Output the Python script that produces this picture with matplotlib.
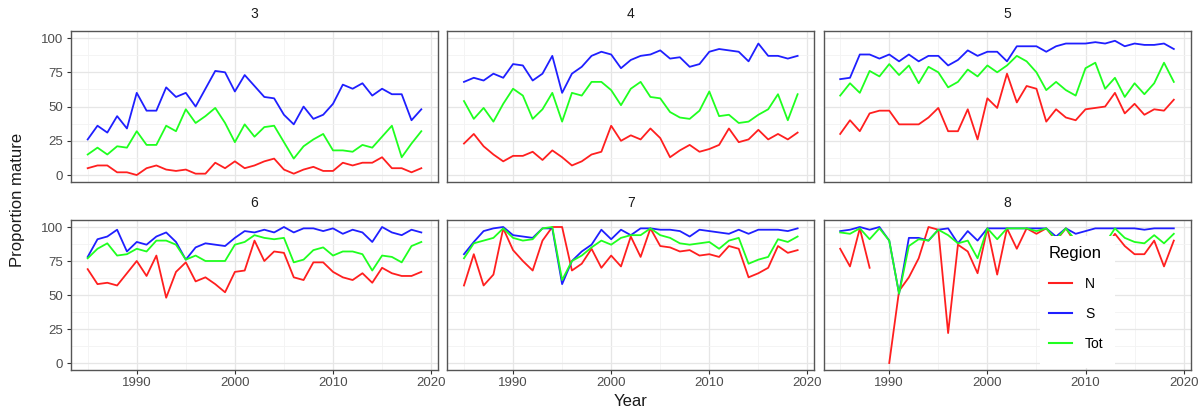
"""
Proportion mature by year, one panel per age, lines for each region.
"""

import numpy as np
import matplotlib.pyplot as plt
from matplotlib.patches import Rectangle
from matplotlib.ticker import MultipleLocator

plt.rcParams['font.family'] = ['Liberation Sans', 'DejaVu Sans']

years = np.arange(1985, 2020)
ages = [3, 4, 5, 6, 7, 8]
regions = ['N', 'S', 'Tot']
colours = {'N': '#ff1f1f', 'S': '#1f1fff', 'Tot': '#1fff1f'}

# proportion mature (%), 1985-2019
n3 = [5, 7, 7, 2, 2, 0, 5, 7, 4, 3, 4, 1, 1, 9, 5, 10, 5, 7, 10, 12,
      4, 1, 4, 6, 3, 3, 9, 7, 9, 9, 13, 5, 5, 2, 5]
s3 = [26, 36, 31, 43, 34, 60, 47, 47, 64, 57, 60, 50, 63, 76, 75, 61, 73, 65, 57, 56,
      44, 37, 50, 41, 44, 52, 66, 63, 67, 58, 63, 59, 59, 40, 48]
tot3 = [15, 20, 15, 21, 20, 32, 22, 22, 36, 32, 48, 38, 43, 49, 38, 24, 37, 28, 35, 36,
        24, 12, 21, 26, 30, 18, 18, 17, 22, 20, 28, 36, 13, 23, 32]

n4 = [23, 30, 21, 15, 10, 14, 14, 17, 11, 18, 13, 7, 10, 15, 17, 36, 25, 29, 26, 34,
      27, 13, 18, 22, 17, 19, 22, 34, 24, 26, 33, 26, 30, 26, 31]
s4 = [68, 71, 69, 74, 71, 81, 80, 69, 74, 87, 60, 74, 79, 87, 90, 88, 78, 84, 87, 88,
      91, 85, 86, 79, 81, 90, 92, 91, 90, 83, 96, 87, 87, 85, 87]
tot4 = [54, 41, 49, 39, 52, 63, 58, 41, 48, 60, 39, 60, 58, 68, 68, 62, 51, 63, 68, 57,
        56, 46, 42, 41, 47, 61, 43, 44, 38, 39, 44, 48, 59, 40, 59]

n5 = [30, 40, 32, 45, 47, 47, 37, 37, 37, 42, 49, 32, 32, 48, 26, 56, 49, 74, 53, 65,
      63, 39, 48, 42, 40, 48, 49, 50, 60, 45, 52, 44, 48, 47, 55]
s5 = [70, 71, 88, 88, 85, 88, 83, 88, 83, 87, 87, 80, 84, 91, 87, 90, 90, 83, 94, 94,
      94, 90, 94, 96, 96, 96, 97, 96, 98, 94, 96, 95, 95, 96, 92]
tot5 = [58, 67, 60, 76, 72, 81, 73, 80, 67, 79, 75, 64, 68, 77, 72, 80, 75, 80, 87, 83,
        75, 62, 68, 62, 58, 78, 82, 63, 71, 57, 67, 59, 67, 82, 68]

n6 = [69, 58, 59, 57, 66, 75, 64, 79, 48, 67, 74, 60, 63, 58, 52, 67, 68, 90, 75, 82,
      81, 63, 61, 74, 74, 67, 63, 61, 66, 59, 70, 66, 64, 64, 67]
s6 = [78, 91, 93, 98, 82, 89, 87, 93, 96, 89, 76, 85, 88, 87, 86, 92, 97, 96, 98, 96,
      100, 96, 99, 99, 97, 99, 95, 98, 96, 89, 100, 96, 94, 98, 96]
tot6 = [77, 84, 88, 79, 80, 84, 82, 90, 90, 87, 76, 79, 75, 75, 75, 87, 89, 94, 92, 91,
        92, 74, 76, 83, 85, 79, 82, 82, 80, 68, 79, 78, 74, 86, 89]

n7 = [57, 80, 57, 65, 99, 83, 75, 68, 90, 100, 100, 68, 73, 84, 70, 79, 71, 93, 78, 99,
      86, 85, 82, 83, 79, 80, 78, 86, 84, 63, 66, 70, 86, 81, 83]
s7 = [80, 89, 97, 99, 100, 94, 93, 92, 99, 99, 58, 75, 82, 87, 98, 91, 98, 94, 99, 99,
      98, 98, 97, 93, 98, 97, 96, 95, 98, 95, 98, 98, 98, 97, 99]
tot7 = [77, 88, 90, 92, 99, 92, 90, 91, 99, 100, 61, 75, 79, 85, 90, 87, 92, 94, 94, 99,
        94, 92, 88, 87, 88, 89, 84, 90, 92, 73, 76, 78, 91, 89, 93]

n8 = [84, 71, 99, 70, np.nan, 0, 53, 63, 77, 100, 98, 22, 87, 82, 66, 99, 65, 99, 84, 99,
      95, 99, 90, 99, 88, 85, 89, 84, 95, 86, 80, 80, 90, 71, 90]
s8 = [97, 98, 100, 98, 100, 90, 51, 92, 92, 90, 98, 99, 88, 97, 90, 99, 99, 99, 99, 99,
      99, 99, 93, 99, 95, 97, 99, 99, 99, 99, 99, 98, 99, 99, 99]
tot8 = [96, 95, 99, 91, 99, 90, 51, 86, 91, 90, 98, 94, 88, 90, 77, 99, 91, 99, 99, 99,
        97, 99, 91, 99, 90, 89, 91, 88, 99, 92, 89, 88, 94, 88, 95]

series = {
    3: {'N': n3, 'S': s3, 'Tot': tot3},
    4: {'N': n4, 'S': s4, 'Tot': tot4},
    5: {'N': n5, 'S': s5, 'Tot': tot5},
    6: {'N': n6, 'S': s6, 'Tot': tot6},
    7: {'N': n7, 'S': s7, 'Tot': tot7},
    8: {'N': n8, 'S': s8, 'Tot': tot8},
}

W, H = 1204, 412
fig = plt.figure(figsize=(W / 100, H / 100), dpi=100)

# panel boxes in pixels: (left, right) per column, (top, bottom) per row
col_px = [(71, 438), (447.3, 814.3), (823.5, 1190.5)]
row_px = [(31.2, 181.9), (220.2, 369.8)]

axes = []
for k, age in enumerate(ages):
    r, c = divmod(k, 3)
    x0, x1 = col_px[c]
    y0, y1 = row_px[r]
    ax = fig.add_axes([x0 / W, 1 - y1 / H, (x1 - x0) / W, (y1 - y0) / H])
    axes.append(ax)

    ax.set_axisbelow(True)
    ax.set_xlim(1983.3, 2020.7)
    ax.set_ylim(-5, 105)
    ax.xaxis.set_major_locator(MultipleLocator(10))
    ax.xaxis.set_minor_locator(MultipleLocator(5))
    ax.yaxis.set_major_locator(MultipleLocator(25))
    ax.yaxis.set_minor_locator(MultipleLocator(12.5))
    ax.grid(which='major', color='#e6e6e6', lw=0.9)
    ax.grid(which='minor', color='#f3f3f3', lw=0.6)

    for spine in ax.spines.values():
        spine.set_color('#555555')
        spine.set_linewidth(1.0)

    ax.tick_params(which='minor', length=0)
    ax.tick_params(which='major', length=3, width=0.8, color='#333333',
                   labelcolor='#4d4d4d', labelsize=9.5, pad=2.5)
    if r == 0:
        ax.tick_params(axis='x', length=0, labelbottom=False)
    if c != 0:
        ax.tick_params(axis='y', length=0, labelleft=False)

    for reg in regions:
        ax.plot(years, series[age][reg], color=colours[reg], lw=1.3,
                label=reg, zorder=2)

    ax.text(0.5, 1 + 17 / 150, str(age), transform=ax.transAxes,
            ha='center', va='center', fontsize=10, color='#1a1a1a')

# legend sits inside the last panel on a white box
ax8 = axes[-1]
ax8.add_patch(Rectangle((0.591, 0.012), 0.204, 0.882, transform=ax8.transAxes,
                        facecolor='white', edgecolor='none', zorder=3))
leg = ax8.legend(title='Region', loc='upper left', bbox_to_anchor=(0.614, 0.83),
                 frameon=False, fontsize=10, title_fontsize=12,
                 handlelength=1.7, handletextpad=0.9, labelspacing=1.15,
                 borderpad=0, borderaxespad=0, alignment='left')
leg.set_zorder(4)
for line in leg.get_lines():
    line.set_linewidth(1.5)

fig.text(18 / W, 1 - 200 / H, 'Proportion mature', rotation=90,
         ha='center', va='center', fontsize=12, color='#1a1a1a')
fig.text(631 / W, 1 - 401 / H, 'Year', ha='center', va='center',
         fontsize=12, color='#1a1a1a')

fig.savefig('out.png', dpi=100, facecolor='white')
